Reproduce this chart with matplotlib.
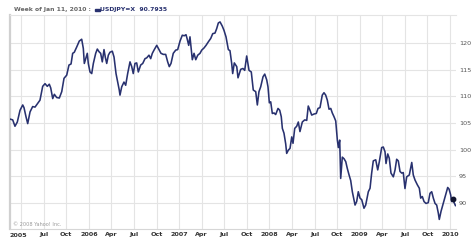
import matplotlib
matplotlib.use("Agg")
import matplotlib.pyplot as plt

# decimal-year time stamps and USD/JPY weekly closes
years = [
    2005.127, 2005.157, 2005.182, 2005.208, 2005.238, 2005.268, 2005.282, 2005.304, 2005.323, 2005.349,
    2005.378, 2005.404, 2005.429, 2005.459, 2005.489, 2005.515, 2005.540, 2005.562, 2005.578, 2005.600,
    2005.618, 2005.644, 2005.673, 2005.700, 2005.725, 2005.755, 2005.780, 2005.803, 2005.821, 2005.839,
    2005.866, 2005.894, 2005.921, 2005.939, 2005.950, 2005.969, 2005.983, 2005.994, 2006.013, 2006.032,
    2006.050, 2006.076, 2006.094, 2006.113, 2006.131, 2006.149, 2006.168, 2006.182, 2006.198, 2006.216,
    2006.234, 2006.260, 2006.279, 2006.301, 2006.320, 2006.337, 2006.345, 2006.364, 2006.389, 2006.408,
    2006.430, 2006.456, 2006.475, 2006.492, 2006.511, 2006.530, 2006.548, 2006.574, 2006.597, 2006.622,
    2006.641, 2006.666, 2006.685, 2006.703, 2006.725, 2006.752, 2006.777, 2006.799, 2006.825, 2006.851,
    2006.873, 2006.891, 2006.910, 2006.935, 2006.962, 2006.984, 2007.010, 2007.035, 2007.057, 2007.076,
    2007.090, 2007.106, 2007.120, 2007.131, 2007.146, 2007.165, 2007.184, 2007.206, 2007.231, 2007.250,
    2007.275, 2007.298, 2007.323, 2007.350, 2007.372, 2007.397, 2007.416, 2007.434, 2007.453, 2007.478,
    2007.497, 2007.519, 2007.545, 2007.563, 2007.582, 2007.593, 2007.611, 2007.638, 2007.652, 2007.682,
    2007.707, 2007.726, 2007.748, 2007.774, 2007.799, 2007.821, 2007.848, 2007.866, 2007.884, 2007.903,
    2007.929, 2007.948, 2007.970, 2007.984, 2007.999, 2008.014, 2008.032, 2008.051, 2008.069, 2008.095,
    2008.114, 2008.131, 2008.143, 2008.161, 2008.180, 2008.191, 2008.209, 2008.228, 2008.247, 2008.261,
    2008.280, 2008.302, 2008.320, 2008.338, 2008.364, 2008.391, 2008.413, 2008.430, 2008.449, 2008.468,
    2008.494, 2008.519, 2008.538, 2008.560, 2008.585, 2008.604, 2008.623, 2008.641, 2008.660, 2008.679,
    2008.696, 2008.715, 2008.734, 2008.752, 2008.763, 2008.778, 2008.789, 2008.807, 2008.826, 2008.845,
    2008.862, 2008.881, 2008.900, 2008.918, 2008.948, 2008.966, 2008.984, 2009.003, 2009.022, 2009.047,
    2009.066, 2009.095, 2009.114, 2009.132, 2009.150, 2009.177, 2009.199, 2009.217, 2009.243, 2009.261,
    2009.280, 2009.291, 2009.310, 2009.327, 2009.346, 2009.372, 2009.391, 2009.409, 2009.427, 2009.446,
    2009.465, 2009.482, 2009.501, 2009.520, 2009.549, 2009.576, 2009.593, 2009.612, 2009.638, 2009.660,
    2009.675, 2009.693, 2009.712, 2009.734, 2009.759, 2009.778, 2009.797, 2009.815, 2009.834, 2009.852,
    2009.870, 2009.881, 2009.900, 2009.925, 2009.952, 2009.974, 2009.989, 2010.007, 2010.018, 2010.036,
    2010.060,
]
usdjpy = [
    105.75, 105.6, 104.4, 105.2, 107.4, 108.4, 107.9, 106.2, 104.9, 107.1,
    108.1, 108.0, 108.6, 109.3, 111.9, 112.4, 111.9, 112.3, 111.6, 109.6,
    110.4, 109.8, 109.7, 110.9, 113.4, 114.0, 115.9, 116.1, 118.1, 118.3,
    119.3, 120.4, 120.75, 119.0, 116.2, 117.3, 118.1, 116.2, 114.6, 114.3,
    116.2, 118.1, 118.9, 118.4, 118.1, 116.5, 118.8, 117.4, 116.2, 117.75,
    118.3, 118.5, 117.4, 114.3, 112.7, 111.2, 110.25, 111.8, 112.7, 112.1,
    114.3, 116.5, 115.6, 114.3, 116.2, 116.3, 114.6, 115.9, 116.2, 117.1,
    117.25, 117.75, 117.1, 118.1, 118.8, 119.6, 118.8, 118.1, 117.9, 117.9,
    116.5, 115.6, 116.2, 118.1, 118.7, 118.8, 120.4, 121.5, 121.4, 121.6,
    120.75, 119.6, 121.2, 119.3, 116.9, 118.1, 116.9, 117.75, 118.1, 118.7,
    119.1, 119.6, 120.25, 120.9, 121.8, 121.9, 122.75, 123.8, 124.0, 123.2,
    122.4, 121.2, 118.8, 118.6, 116.2, 114.3, 116.3, 115.6, 113.5, 115.1,
    115.25, 114.9, 117.6, 114.9, 114.6, 111.2, 110.9, 108.4, 110.9, 111.8,
    113.7, 114.2, 113.1, 111.8, 108.8, 109.0, 106.8, 106.9, 106.6, 107.75,
    107.4, 106.2, 104.0, 103.1, 101.1, 99.3, 99.9, 100.25, 102.4, 101.2,
    104.0, 104.4, 105.2, 103.4, 105.2, 105.6, 105.5, 108.2, 107.4, 106.5,
    106.7, 106.8, 107.75, 107.9, 110.25, 110.7, 110.25, 109.3, 107.6, 107.75,
    106.9, 106.2, 105.4, 101.8, 100.4, 101.8, 94.6, 98.6, 98.3, 97.75,
    96.5, 95.3, 94.2, 92.1, 89.6, 90.25, 92.1, 90.9, 90.6, 89.0,
    89.6, 92.1, 92.75, 95.6, 97.9, 98.1, 96.2, 97.75, 100.4, 100.5,
    99.6, 97.4, 99.2, 98.4, 95.6, 94.9, 96.2, 98.2, 97.9, 95.9,
    95.6, 95.7, 92.7, 94.9, 95.25, 97.6, 95.25, 94.3, 93.4, 92.75,
    90.9, 91.2, 90.25, 89.9, 90.05, 91.8, 92.1, 90.9, 89.9, 89.6,
    88.1, 86.9, 88.4, 89.9, 91.5, 92.9, 92.6, 91.5, 90.25, 90.4,
    89.5,
]

current_year = 2010.033
current_value = 90.7935

y_ticks = [90, 95, 100, 105, 110, 115, 120]
x_tick_pos = [2005.25, 2005.5, 2005.75, 2006.0, 2006.25, 2006.5, 2006.75,
              2007.0, 2007.25, 2007.5, 2007.75, 2008.0, 2008.25, 2008.5, 2008.75,
              2009.0, 2009.25, 2009.5, 2009.75, 2010.0]
x_tick_labels = ["", "Jul", "Oct", "2006", "Apr", "Jul", "Oct",
                 "2007", "Apr", "Jul", "Oct", "2008", "Apr", "Jul", "Oct",
                 "2009", "Apr", "Jul", "Oct", "2010"]
first_label = "2005"

fig = plt.figure(figsize=(4.74, 2.41), dpi=100)
ax = fig.add_axes([10 / 474, 1 - 229 / 241, 446 / 474, 214 / 241])

ax.plot(years, usdjpy, color="#28316f", lw=1.15, solid_joinstyle="round", zorder=3)
ax.plot([current_year], [current_value], "o", color="#10142e", ms=3.2, zorder=4)

ax.set_xlim(2005.127, 2010.066)
ax.set_ylim(85.1, 125.3)

ax.set_yticks(y_ticks)
ax.set_yticklabels([str(v) for v in y_ticks])
ax.yaxis.tick_right()
ax.tick_params(axis="y", length=0, pad=2, labelsize=4.6, labelcolor="#555555")

ax.set_xticks(x_tick_pos)
ax.set_xticklabels(x_tick_labels)
ax.tick_params(axis="x", length=0, pad=2.5, labelsize=4.6, labelcolor="#333333")
for lbl in ax.get_xticklabels():
    lbl.set_fontweight("bold")
ax.text(0.0, -0.018, first_label, transform=ax.transAxes, ha="left", va="top",
        fontsize=4.6, fontweight="bold", color="#333333")

ax.grid(True, color="#e4e4e4", lw=0.8, zorder=0)
for side in ["right"]:
    ax.spines[side].set_visible(False)
ax.spines["top"].set_color("#e4e4e4")
ax.spines["bottom"].set_color("#d6d6d6")
ax.spines["left"].set_color("#d0d0d0")
ax.spines["left"].set_linewidth(1.6)

# header
fig.text(14 / 474, 1 - 9.5 / 241, "Week of Jan 11, 2010 :", fontsize=4.4,
         color="#666666", va="center", ha="left", fontweight="bold")
fig.patches.append(plt.Rectangle((95 / 474, 1 - 11 / 241), 4.5 / 474, 2.5 / 241,
                                 transform=fig.transFigure, color="#28316f"))
fig.text(100 / 474, 1 - 9.5 / 241, "USDJPY=X  90.7935", fontsize=4.4,
         color="#28316f", va="center", ha="left", fontweight="bold")

# copyright
fig.text(13 / 474, 1 - 224 / 241, "© 2008 Yahoo! Inc.", fontsize=3.6,
         color="#9a9a9a", va="center", ha="left")

fig.savefig("out.png", dpi=100)
